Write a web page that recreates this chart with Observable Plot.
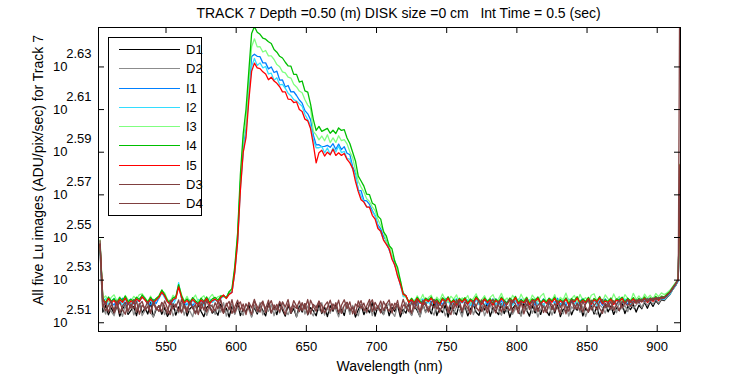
<!DOCTYPE html>
<html><head><meta charset="utf-8">
<script src="https://cdn.jsdelivr.net/npm/d3@7"></script>
<script src="https://cdn.jsdelivr.net/npm/@observablehq/plot@0.6"></script>
<style>
html,body{margin:0;padding:0;background:#fff;}
#wrap{position:relative;width:750px;height:375px;overflow:hidden;background:#fff;}
#legend{position:absolute;left:108px;top:37px;}
</style></head><body><div id="wrap"></div>
<script>
// Wavelength grid (nm)
const wavelength = [
503,505,507,509,511,513,515,517,519,521,523,525,527,529,531,533,535,537,539,541,
543,545,547,549,551,553,555,557,559,561,563,565,567,569,571,573,575,577,579,581,
583,585,587,589,591,593,595,597,599,601,603,605,607,609,611,613,615,617,619,621,
623,625,627,629,631,633,635,637,639,641,643,645,647,649,651,653,655,657,659,661,
663,665,667,669,671,673,675,677,679,681,683,685,687,689,691,693,695,697,699,701,
703,705,707,709,711,713,715,717,719,721,723,725,727,729,731,733,735,737,739,741,
743,745,747,749,751,753,755,757,759,761,763,765,767,769,771,773,775,777,779,781,
783,785,787,789,791,793,795,797,799,801,803,805,807,809,811,813,815,817,819,821,
823,825,827,829,831,833,835,837,839,841,843,845,847,849,851,853,855,857,859,861,
863,865,867,869,871,873,875,877,879,881,883,885,887,889,891,893,895,897,899,901,
903,905,907,909,911,913,915,916.3];

// Series values, log10(ADU/pix/sec)
const D1 = [2.5440,
2.5150,2.5181,2.5137,2.5170,2.5144,2.5192,2.5131,2.5165,2.5184,2.5139,2.5158,2.5177,2.5133,2.5189,2.5147,2.5169,2.5141,2.5194,2.5128,2.5162,
2.5180,2.5140,2.5171,2.5130,2.5155,2.5188,2.5136,2.5174,2.5149,2.5191,2.5132,2.5166,2.5179,2.5143,2.5186,2.5153,2.5129,2.5172,2.5183,2.5145,
2.5160,2.5135,2.5187,2.5148,2.5168,2.5127,2.5178,2.5142,2.5193,2.5134,2.5164,2.5152,2.5185,2.5130,2.5173,2.5141,2.5182,2.5157,2.5132,2.5190,
2.5146,2.5175,2.5138,2.5192,2.5159,2.5131,2.5183,2.5144,2.5167,2.5128,2.5179,2.5150,2.5189,2.5137,2.5171,2.5156,2.5133,2.5186,2.5143,2.5174,
2.5129,2.5180,2.5154,2.5188,2.5139,2.5166,2.5134,2.5194,2.5149,2.5176,2.5127,2.5161,2.5185,2.5138,2.5170,2.5147,2.5196,2.5131,2.5178,2.5157,
2.5140,2.5189,2.5133,2.5172,2.5153,2.5184,2.5128,2.5163,2.5145,2.5191,2.5136,2.5177,2.5158,2.5130,2.5187,2.5151,2.5173,2.5142,2.5195,2.5134,
2.5168,2.5148,2.5183,2.5127,2.5175,2.5156,2.5137,2.5190,2.5144,2.5179,2.5132,2.5165,2.5186,2.5149,2.5135,2.5181,2.5160,2.5194,2.5130,2.5171,
2.5155,2.5138,2.5188,2.5143,2.5176,2.5126,2.5167,2.5184,2.5152,2.5136,2.5192,2.5159,2.5131,2.5180,2.5146,2.5170,2.5139,2.5186,2.5157,2.5134,
2.5178,2.5145,2.5190,2.5129,2.5164,2.5153,2.5183,2.5137,2.5172,2.5159,2.5195,2.5132,2.5168,2.5150,2.5185,2.5141,2.5175,2.5127,2.5162,2.5189,
2.5151,2.5179,2.5139,2.5170,2.5157,2.5191,2.5143,2.5176,2.5162,2.5186,2.5150,2.5182,2.5166,2.5196,2.5168,2.5199,2.5177,2.5203,2.5188,2.5208,
2.5204,2.5219,2.5232,2.5256,2.5273,2.5297,
2.5830];

const D2 = [2.5445,
2.5176,2.5141,2.5190,2.5152,2.5133,2.5182,2.5163,2.5130,2.5185,2.5148,2.5197,2.5137,2.5168,2.5188,2.5134,2.5157,2.5180,2.5145,2.5129,2.5173,
2.5153,2.5193,2.5138,2.5166,2.5186,2.5132,2.5161,2.5147,2.5191,2.5136,2.5175,2.5155,2.5128,2.5183,2.5143,2.5196,2.5164,2.5134,2.5170,2.5185,
2.5139,2.5178,2.5150,2.5194,2.5131,2.5167,2.5187,2.5140,2.5174,2.5156,2.5135,2.5189,2.5162,2.5126,2.5181,2.5149,2.5195,2.5137,2.5169,2.5154,
2.5186,2.5133,2.5176,2.5146,2.5197,2.5160,2.5138,2.5172,2.5184,2.5129,2.5163,2.5192,2.5141,2.5179,2.5151,2.5132,2.5182,2.5157,2.5194,2.5136,
2.5168,2.5144,2.5188,2.5162,2.5128,2.5177,2.5150,2.5193,2.5139,2.5181,2.5155,2.5133,2.5186,2.5166,2.5145,2.5196,2.5134,2.5174,2.5159,2.5184,
2.5137,2.5172,2.5191,2.5150,2.5130,2.5182,2.5163,2.5143,2.5195,2.5156,2.5134,2.5179,2.5167,2.5127,2.5187,2.5147,2.5175,2.5158,2.5136,2.5193,
2.5153,2.5180,2.5132,2.5166,2.5189,2.5141,2.5176,2.5160,2.5128,2.5185,2.5149,2.5197,2.5138,2.5174,2.5155,2.5186,2.5133,2.5167,2.5182,2.5146,
2.5193,2.5158,2.5135,2.5178,2.5151,2.5190,2.5140,2.5165,2.5184,2.5130,2.5172,2.5154,2.5198,2.5144,2.5177,2.5127,2.5163,2.5188,2.5148,2.5179,
2.5136,2.5169,2.5194,2.5157,2.5142,2.5182,2.5131,2.5175,2.5161,2.5189,2.5149,2.5178,2.5129,2.5165,2.5192,2.5153,2.5139,2.5184,2.5171,2.5145,
2.5186,2.5160,2.5176,2.5147,2.5195,2.5164,2.5181,2.5152,2.5190,2.5168,2.5183,2.5198,2.5171,2.5201,2.5180,2.5205,2.5186,2.5209,2.5192,2.5212,
2.5207,2.5221,2.5235,2.5257,2.5275,2.5299,
2.5832];

const I1 = [2.5470,
2.5206,2.5186,2.5212,2.5193,2.5183,2.5208,2.5190,2.5215,2.5185,2.5202,
2.5211,2.5188,2.5213,2.5199,2.5220,2.5214,2.5192,2.5184,2.5209,2.5190,
2.5216,2.5241,2.5222,2.5207,2.5186,2.5204,2.5217,2.5273,2.5218,2.5191,
2.5184,2.5207,2.5180,2.5198,2.5187,2.5205,2.5189,2.5210,2.5192,2.5203,
2.5209,2.5200,2.5216,
2.5228,2.5215,2.5238,2.5242,2.5344,2.5492,2.5752,2.5911,2.6013,2.6170,
2.6349,2.6360,2.6350,2.6348,2.6319,2.6319,2.6291,2.6300,2.6274,2.6280,
2.6238,2.6239,2.6206,2.6213,2.6183,2.6184,2.6166,2.6145,2.6130,2.6095,
2.6080,2.6053,2.5980,2.5934,2.5935,2.5926,2.5927,2.5932,2.5923,2.5940,
2.5914,2.5938,2.5912,2.5926,2.5895,2.5889,2.5832,2.5800,2.5721,2.5720,
2.5674,2.5672,2.5655,2.5626,2.5603,2.5559,2.5540,2.5505,2.5484,2.5443,
2.5412,2.5369,2.5339,2.5276,2.5239,2.5226,2.5194,
2.5203,2.5185,2.5210,2.5191,2.5206,2.5182,2.5212,2.5194,2.5205,2.5187,
2.5209,2.5183,2.5214,2.5197,2.5188,2.5207,2.5184,2.5211,2.5193,2.5208,
2.5186,2.5203,2.5181,2.5213,2.5196,2.5189,2.5209,2.5183,2.5206,2.5192,
2.5212,2.5185,2.5204,2.5180,2.5198,2.5210,2.5190,2.5207,2.5184,2.5211,
2.5194,2.5213,2.5186,2.5205,2.5182,2.5208,2.5191,2.5212,2.5199,2.5185,
2.5210,2.5193,2.5215,2.5184,2.5203,2.5181,2.5211,2.5195,2.5206,2.5187,
2.5201,2.5214,2.5190,2.5207,2.5183,2.5209,2.5196,2.5204,2.5182,2.5212,
2.5189,2.5206,2.5198,2.5184,2.5213,2.5193,2.5208,2.5186,2.5205,2.5197,
2.5211,2.5194,2.5214,2.5199,2.5216,2.5202,2.5215,2.5206,2.5218,2.5210,
2.5212,2.5225,2.5236,2.5259,2.5276,2.5299,
2.5838];

const I2 = [2.5460,
2.5203,2.5213,2.5185,2.5200,2.5215,2.5188,2.5207,2.5181,2.5211,2.5196,
2.5184,2.5209,2.5192,2.5214,2.5219,2.5210,2.5186,2.5204,2.5182,2.5208,
2.5213,2.5246,2.5218,2.5197,2.5205,2.5183,2.5212,2.5288,2.5215,2.5201,
2.5189,2.5180,2.5206,2.5187,2.5210,2.5192,2.5182,2.5204,2.5213,2.5195,
2.5207,2.5199,2.5214,
2.5223,2.5221,2.5244,2.5246,2.5333,2.5478,2.5729,2.5902,2.5993,2.6171,
2.6301,2.6340,2.6307,2.6319,2.6296,2.6302,2.6267,2.6271,2.6238,2.6249,
2.6216,2.6218,2.6200,2.6177,2.6165,2.6147,2.6140,2.6128,2.6116,2.6077,
2.6053,2.6025,2.5957,2.5921,2.5921,2.5927,2.5897,2.5920,2.5889,2.5920,
2.5901,2.5929,2.5898,2.5904,2.5870,2.5868,2.5820,2.5789,2.5727,2.5694,
2.5669,2.5645,2.5642,2.5621,2.5602,2.5553,2.5526,2.5490,2.5472,2.5442,
2.5410,2.5382,2.5322,2.5280,2.5223,2.5222,2.5198,
2.5188,2.5207,2.5182,2.5203,2.5212,2.5185,2.5198,2.5179,2.5209,2.5193,
2.5184,2.5211,2.5190,2.5205,2.5180,2.5199,2.5214,2.5186,2.5202,2.5191,
2.5208,2.5181,2.5196,2.5210,2.5185,2.5203,2.5183,2.5206,2.5194,2.5213,
2.5186,2.5199,2.5178,2.5207,2.5190,2.5209,2.5182,2.5201,2.5212,2.5188,
2.5197,2.5180,2.5208,2.5193,2.5214,2.5184,2.5203,2.5181,2.5205,2.5195,
2.5210,2.5186,2.5199,2.5179,2.5207,2.5191,2.5202,2.5213,2.5185,2.5198,
2.5183,2.5206,2.5194,2.5211,2.5187,2.5203,2.5180,2.5208,2.5196,2.5205,
2.5189,2.5210,2.5197,2.5184,2.5207,2.5193,2.5212,2.5199,2.5186,2.5205,
2.5195,2.5211,2.5200,2.5215,2.5198,2.5213,2.5204,2.5217,2.5206,2.5214,
2.5210,2.5224,2.5233,2.5256,2.5274,2.5296,
2.5836];

const I3 = [2.5490,
2.5214,2.5226,2.5198,2.5219,2.5231,2.5202,2.5222,2.5196,2.5228,2.5207,
2.5199,2.5224,2.5211,2.5232,2.5236,2.5218,2.5200,2.5225,2.5197,2.5215,
2.5223,2.5250,2.5241,2.5209,2.5198,2.5229,2.5213,2.5276,2.5234,2.5201,
2.5224,2.5195,2.5212,2.5230,2.5199,2.5216,2.5227,2.5202,2.5218,2.5233,
2.5210,2.5222,2.5228,
2.5222,2.5215,2.5243,2.5254,2.5349,2.5517,2.5759,2.5961,2.6039,2.6236,
2.6394,2.6432,2.6394,2.6395,2.6370,2.6377,2.6352,2.6352,2.6335,2.6311,
2.6301,2.6277,2.6272,2.6252,2.6248,2.6219,2.6206,2.6187,2.6179,2.6146,
2.6121,2.6105,2.5998,2.5981,2.5958,2.5976,2.5954,2.5982,2.5945,2.5967,
2.5946,2.5977,2.5954,2.5959,2.5939,2.5902,2.5874,2.5816,2.5764,2.5736,
2.5713,2.5682,2.5669,2.5644,2.5626,2.5585,2.5555,2.5532,2.5478,2.5467,
2.5411,2.5393,2.5338,2.5297,2.5230,2.5220,2.5196,
2.5215,2.5198,2.5226,2.5204,2.5233,2.5197,2.5218,2.5229,2.5195,2.5220,
2.5203,2.5235,2.5208,2.5196,2.5224,2.5211,2.5231,2.5194,2.5217,2.5206,
2.5228,2.5193,2.5214,2.5236,2.5200,2.5209,2.5227,2.5196,2.5219,2.5232,
2.5199,2.5212,2.5238,2.5203,2.5216,2.5195,2.5229,2.5210,2.5198,2.5234,
2.5207,2.5221,2.5194,2.5230,2.5213,2.5200,2.5225,2.5237,2.5197,2.5215,
2.5204,2.5232,2.5195,2.5219,2.5208,2.5239,2.5201,2.5214,2.5228,2.5196,
2.5233,2.5206,2.5218,2.5194,2.5229,2.5236,2.5202,2.5220,2.5197,2.5231,
2.5212,2.5199,2.5235,2.5207,2.5223,2.5196,2.5232,2.5214,2.5201,2.5238,
2.5209,2.5226,2.5205,2.5234,2.5215,2.5229,2.5211,2.5237,2.5222,2.5240,
2.5232,2.5241,2.5252,2.5269,2.5288,2.5305,
2.5845];

const I4 = [2.5465,
2.5216,2.5195,2.5221,2.5201,2.5213,2.5192,2.5218,2.5204,2.5225,2.5197,
2.5210,2.5199,2.5220,2.5209,2.5230,2.5214,2.5197,2.5219,2.5202,2.5214,
2.5226,2.5254,2.5232,2.5205,2.5193,2.5217,2.5222,2.5279,2.5228,2.5199,
2.5212,2.5194,2.5218,2.5203,2.5191,2.5215,2.5200,2.5221,2.5197,2.5212,
2.5219,2.5206,2.5225,
2.5226,2.5217,2.5246,2.5260,2.5364,2.5516,2.5796,2.5986,2.6101,2.6280,
2.6457,2.6489,2.6463,2.6453,2.6435,2.6430,2.6418,2.6410,2.6382,2.6369,
2.6350,2.6342,2.6322,2.6305,2.6304,2.6265,2.6265,2.6229,2.6234,2.6188,
2.6182,2.6126,2.6053,2.6002,2.6021,2.5998,2.6005,2.6012,2.5989,2.6003,
2.5988,2.6014,2.6002,2.6006,2.5967,2.5941,2.5900,2.5859,2.5788,2.5765,
2.5741,2.5703,2.5701,2.5661,2.5652,2.5600,2.5586,2.5526,2.5507,2.5462,
2.5447,2.5388,2.5359,2.5299,2.5239,2.5225,2.5198,
2.5214,2.5195,2.5219,2.5201,2.5192,2.5216,2.5205,2.5221,2.5197,2.5210,
2.5191,2.5217,2.5203,2.5222,2.5196,2.5209,2.5190,2.5215,2.5202,2.5218,
2.5194,2.5212,2.5199,2.5223,2.5207,2.5193,2.5217,2.5200,2.5213,2.5189,
2.5211,2.5198,2.5220,2.5204,2.5192,2.5216,2.5201,2.5224,2.5195,2.5208,
2.5199,2.5218,2.5191,2.5212,2.5205,2.5221,2.5194,2.5210,2.5197,2.5215,
2.5202,2.5220,2.5193,2.5209,2.5198,2.5217,2.5190,2.5213,2.5204,2.5222,
2.5196,2.5211,2.5200,2.5219,2.5192,2.5214,2.5203,2.5223,2.5195,2.5208,
2.5201,2.5216,2.5191,2.5212,2.5206,2.5220,2.5197,2.5215,2.5202,2.5218,
2.5198,2.5214,2.5204,2.5221,2.5201,2.5217,2.5207,2.5223,2.5210,2.5225,
2.5221,2.5235,2.5246,2.5266,2.5283,2.5306,
2.5842];

const I5 = [2.5468,
2.5210,2.5188,2.5214,2.5193,2.5205,2.5184,2.5209,2.5196,2.5216,2.5187,
2.5203,2.5191,2.5212,2.5200,2.5221,2.5206,2.5190,2.5211,2.5194,2.5207,
2.5219,2.5244,2.5226,2.5198,2.5186,2.5209,2.5215,2.5268,2.5220,2.5192,
2.5205,2.5186,2.5210,2.5195,2.5183,2.5207,2.5192,2.5213,2.5189,2.5204,
2.5211,2.5198,2.5217,
2.5230,2.5214,2.5233,2.5242,2.5337,2.5476,2.5720,2.5899,2.5968,2.6143,
2.6279,2.6318,2.6296,2.6292,2.6277,2.6267,2.6240,2.6252,2.6234,2.6223,
2.6207,2.6183,2.6183,2.6149,2.6148,2.6133,2.6136,2.6100,2.6091,2.6055,
2.6047,2.6011,2.5935,2.5850,2.5898,2.5909,2.5882,2.5900,2.5888,2.5914,
2.5885,2.5897,2.5885,2.5894,2.5866,2.5850,2.5824,2.5763,2.5715,2.5677,
2.5666,2.5643,2.5642,2.5604,2.5586,2.5542,2.5529,2.5488,2.5468,2.5447,
2.5398,2.5371,2.5319,2.5281,2.5233,2.5227,2.5195,
2.5208,2.5189,2.5213,2.5195,2.5186,2.5210,2.5199,2.5215,2.5191,2.5204,
2.5185,2.5211,2.5197,2.5216,2.5190,2.5203,2.5184,2.5209,2.5196,2.5212,
2.5188,2.5206,2.5193,2.5217,2.5201,2.5187,2.5211,2.5194,2.5207,2.5183,
2.5205,2.5192,2.5214,2.5198,2.5186,2.5210,2.5195,2.5218,2.5189,2.5202,
2.5193,2.5212,2.5185,2.5206,2.5199,2.5215,2.5188,2.5204,2.5191,2.5209,
2.5196,2.5214,2.5187,2.5203,2.5192,2.5211,2.5184,2.5207,2.5198,2.5216,
2.5190,2.5205,2.5194,2.5213,2.5186,2.5208,2.5197,2.5217,2.5189,2.5202,
2.5195,2.5210,2.5185,2.5206,2.5200,2.5214,2.5191,2.5209,2.5196,2.5212,
2.5192,2.5208,2.5198,2.5215,2.5195,2.5211,2.5201,2.5217,2.5204,2.5219,
2.5216,2.5230,2.5241,2.5262,2.5279,2.5302,
2.5840];

const D3 = [2.5485,
2.5173,2.5198,2.5150,2.5186,2.5160,2.5204,2.5144,2.5178,2.5196,2.5154,2.5188,2.5166,2.5202,2.5140,2.5182,2.5169,2.5200,2.5148,2.5192,2.5162,
2.5180,2.5152,2.5203,2.5168,2.5138,2.5190,2.5174,2.5207,2.5146,2.5184,2.5158,2.5198,2.5171,2.5142,2.5194,2.5164,2.5205,2.5150,2.5186,2.5176,
2.5156,2.5200,2.5170,2.5144,2.5192,2.5162,2.5208,2.5148,2.5182,2.5198,2.5154,2.5188,2.5168,2.5139,2.5203,2.5176,2.5150,2.5196,2.5166,2.5206,
2.5146,2.5184,2.5160,2.5200,2.5172,2.5138,2.5190,2.5156,2.5204,2.5178,2.5152,2.5194,2.5164,2.5209,2.5142,2.5186,2.5170,2.5202,2.5148,2.5180,
2.5198,2.5154,2.5188,2.5166,2.5206,2.5144,2.5182,2.5196,2.5160,2.5174,2.5140,2.5203,2.5168,2.5192,2.5150,2.5186,2.5208,2.5158,2.5178,2.5146,
2.5200,2.5172,2.5154,2.5190,2.5164,2.5205,2.5142,2.5184,2.5176,2.5152,2.5198,2.5166,2.5207,2.5148,2.5180,2.5194,2.5158,2.5188,2.5170,2.5203,
2.5150,2.5182,2.5196,2.5162,2.5138,2.5192,2.5174,2.5204,2.5156,2.5186,2.5168,2.5144,2.5200,2.5178,2.5206,2.5152,2.5184,2.5164,2.5196,2.5172,
2.5146,2.5202,2.5176,2.5158,2.5190,2.5208,2.5150,2.5180,2.5166,2.5198,2.5142,2.5188,2.5172,2.5205,2.5156,2.5182,2.5194,2.5148,2.5178,2.5203,
2.5162,2.5190,2.5170,2.5140,2.5200,2.5176,2.5154,2.5206,2.5184,2.5164,2.5196,2.5150,2.5188,2.5208,2.5160,2.5180,2.5198,2.5168,2.5144,2.5192,
2.5174,2.5200,2.5158,2.5186,2.5206,2.5170,2.5194,2.5180,2.5204,2.5188,2.5208,2.5194,2.5210,2.5198,2.5213,2.5202,2.5216,2.5206,2.5219,2.5212,
2.5216,2.5226,2.5240,2.5258,2.5280,2.5302,
2.5838];

const D4 = [2.5470,
2.5192,2.5156,2.5180,2.5204,2.5146,2.5172,2.5198,2.5162,2.5140,2.5194,2.5168,2.5208,2.5150,2.5184,2.5200,2.5158,2.5176,2.5144,2.5202,2.5170,
2.5154,2.5196,2.5178,2.5142,2.5206,2.5164,2.5188,2.5152,2.5209,2.5174,2.5148,2.5200,2.5166,2.5186,2.5138,2.5192,2.5160,2.5204,2.5172,2.5150,
2.5194,2.5166,2.5208,2.5156,2.5182,2.5200,2.5144,2.5174,2.5206,2.5160,2.5188,2.5138,2.5196,2.5170,2.5210,2.5154,2.5184,2.5202,2.5148,2.5178,
2.5204,2.5162,2.5186,2.5150,2.5198,2.5174,2.5209,2.5144,2.5180,2.5168,2.5202,2.5156,2.5190,2.5140,2.5206,2.5176,2.5154,2.5200,2.5182,2.5146,
2.5172,2.5206,2.5160,2.5194,2.5148,2.5182,2.5208,2.5166,2.5198,2.5142,2.5188,2.5174,2.5204,2.5156,2.5180,2.5209,2.5152,2.5196,2.5170,2.5202,
2.5158,2.5186,2.5207,2.5146,2.5192,2.5178,2.5162,2.5210,2.5168,2.5190,2.5144,2.5200,2.5176,2.5154,2.5206,2.5182,2.5150,2.5196,2.5209,2.5164,
2.5188,2.5172,2.5202,2.5148,2.5194,2.5166,2.5208,2.5180,2.5152,2.5198,2.5184,2.5140,2.5204,2.5170,2.5156,2.5207,2.5178,2.5146,2.5192,2.5210,
2.5168,2.5182,2.5150,2.5200,2.5174,2.5158,2.5206,2.5188,2.5144,2.5196,2.5170,2.5209,2.5162,2.5184,2.5202,2.5152,2.5190,2.5176,2.5148,2.5198,
2.5186,2.5154,2.5204,2.5172,2.5196,2.5142,2.5180,2.5208,2.5166,2.5192,2.5158,2.5200,2.5174,2.5150,2.5206,2.5184,2.5162,2.5198,2.5209,2.5170,
2.5194,2.5164,2.5204,2.5182,2.5156,2.5200,2.5188,2.5208,2.5176,2.5202,2.5192,2.5210,2.5198,2.5212,2.5200,2.5215,2.5206,2.5218,2.5210,2.5221,
2.5219,2.5228,2.5242,2.5261,2.5283,2.5305,
2.7000];

const seriesNames = ["D1","D2","I1","I2","I3","I4","I5","D3","D4"];
const seriesColors = ["#000000","#8c8c8c","#0080ff","#33ddff","#80ff80","#00bf00","#ff0000","#804040","#804040"];
const xTicks = [550,600,650,700,750,800,850,900];
const yTickExps = [2.51,2.53,2.55,2.57,2.59,2.61,2.63];
const titleText = "TRACK 7 Depth =0.50 (m) DISK size =0 cm\u00a0\u00a0\u00a0Int Time = 0.5 (sec)";
const xLabel = "Wavelength (nm)";
const yLabel = "All five Lu images (ADU/pix/sec) for Track 7";

const values = {D1, D2, I1, I2, I3, I4, I5, D3, D4};
const W = 750, H = 375, ML = 98, MR = 70, MT = 27, MB = 44;
const FW = W - ML - MR, FH = H - MT - MB;
const font = '"Liberation Sans", Arial, Helvetica, sans-serif';

const lineMarks = seriesNames.map((name, k) => {
  const arr = values[name];
  if (arr.length !== wavelength.length) throw new Error(name + " length " + arr.length);
  const rows = wavelength.map((w, i) => ({w, v: 10 ** arr[i]}));
  return Plot.line(rows, {x: "w", y: "v", stroke: seriesColors[k], strokeWidth: 1.3, clip: true});
});

const yt = yTickExps.map(e => 10 ** e);

const chart = Plot.plot({
  width: W, height: H,
  marginLeft: ML, marginRight: MR, marginTop: MT, marginBottom: MB,
  style: {fontFamily: font, fontSize: "13px", color: "#000", background: "#fff", overflow: "visible"},
  x: {domain: [501.9, 916.6], axis: null},
  y: {type: "log", domain: [10 ** 2.5059, 10 ** 2.6485], axis: null},
  marks: [
    ...lineMarks,
    Plot.tickX(xTicks, {x: d => d, stroke: "#000", insetTop: FH - 6}),
    Plot.tickX(xTicks, {x: d => d, stroke: "#000", insetBottom: FH - 6}),
    Plot.tickY(yt, {y: d => d, stroke: "#000", insetRight: FW - 6}),
    Plot.tickY(yt, {y: d => d, stroke: "#000", insetLeft: FW - 6}),
    Plot.frame({stroke: "#000"}),
    Plot.text(xTicks, {x: d => d, text: d => String(d), frameAnchor: "bottom", lineAnchor: "top", dy: 10, fontSize: 13, fill: "#000"}),
    Plot.text(yt, {y: d => d, text: () => "10", frameAnchor: "left", textAnchor: "end", lineAnchor: "middle", dx: -31, fontSize: 13, fill: "#000"}),
    Plot.text(yTickExps, {y: d => 10 ** d, text: d => d.toFixed(2), frameAnchor: "left", textAnchor: "end", lineAnchor: "middle", dx: -7, dy: -13, fontSize: 13, fill: "#000"}),
    Plot.text([xLabel], {text: d => d, frameAnchor: "bottom", lineAnchor: "middle", dy: 35, fontSize: 14, fill: "#000"}),
    Plot.text([yLabel], {text: d => d, frameAnchor: "left", rotate: -90, textAnchor: "middle", lineAnchor: "middle", dx: -59.5, dy: -9.5, fontSize: 14, fill: "#000"}),
    Plot.text([titleText], {text: d => d, frameAnchor: "top", lineAnchor: "middle", dx: 9, dy: -14, fontSize: 14, fill: "#000"})
  ]
});
document.getElementById("wrap").appendChild(chart);

// Legend overlay
const rowGap = 19.25;
const lg = d3.create("svg").attr("id", "legend").attr("width", 95).attr("height", 180)
  .style("font-family", font).style("font-size", "13px");
lg.append("rect").attr("x", 0.5).attr("y", 0.5).attr("width", 93).attr("height", 178)
  .attr("fill", "#fff").attr("stroke", "#000");
seriesNames.forEach((name, i) => {
  const y = Math.round(12 + i * rowGap) + 0.5;
  lg.append("line").attr("x1", 11).attr("x2", 72).attr("y1", y).attr("y2", y)
    .attr("stroke", seriesColors[i]).attr("stroke-width", 1).attr("shape-rendering", "crispEdges");
  lg.append("text").attr("x", 78).attr("y", y).attr("dy", "0.35em").attr("fill", "#000").text(name);
});
document.getElementById("wrap").appendChild(lg.node());
</script></body></html>
